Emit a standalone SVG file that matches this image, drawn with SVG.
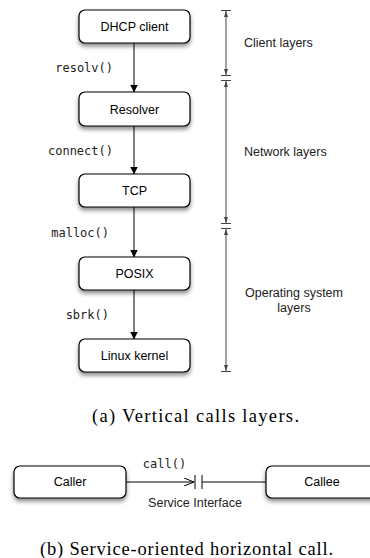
<svg xmlns="http://www.w3.org/2000/svg" width="370" height="558" viewBox="0 0 370 558">
<style>
.box{fill:#fff;stroke:#000;stroke-width:1.2;filter:url(#sh)}
.bt{font-family:"Liberation Sans",Arial,sans-serif;font-size:12.5px;text-anchor:middle;fill:#000}
.mono{font-family:"DejaVu Sans Mono","Liberation Mono",monospace;font-size:12px;fill:#222}
.lbl{font-family:"Liberation Sans",Arial,sans-serif;font-size:12.5px;fill:#222}
.cap{font-family:"Liberation Serif","Times New Roman",serif;font-size:18.5px;text-anchor:middle;fill:#000}
.ln{stroke:#000;stroke-width:1;fill:none}
.br{stroke:#444;stroke-width:1;fill:none}
</style>
<defs>
<filter id="sh" x="-10%" y="-20%" width="120%" height="160%">
<feDropShadow dx="0" dy="3" stdDeviation="2" flood-color="#000" flood-opacity="0.45"/>
</filter>
<marker id="ah" markerWidth="8" markerHeight="10" refX="7.5" refY="4" orient="auto" markerUnits="userSpaceOnUse" viewBox="0 0 8 8">
<path d="M0,0 L8,4 L0,8 z" fill="#000"/>
</marker>
<marker id="sa" markerWidth="6" markerHeight="4" refX="6" refY="2" orient="auto-start-reverse" markerUnits="userSpaceOnUse" viewBox="0 0 6 4">
<path d="M0,0 L6,2 L0,4 z" fill="#444"/>
</marker>
<marker id="oa" markerWidth="10" markerHeight="8" refX="10" refY="4" orient="auto" markerUnits="userSpaceOnUse" viewBox="0 0 10 8">
<path d="M0,0 L10,4 L0,8" fill="none" stroke="#000" stroke-width="1"/>
</marker>
</defs>

<g id="connectors">
<line class="ln" x1="134" y1="43" x2="134" y2="92" marker-end="url(#ah)"/>
<line class="ln" x1="134" y1="126" x2="134" y2="174" marker-end="url(#ah)"/>
<line class="ln" x1="134" y1="207" x2="134" y2="257" marker-end="url(#ah)"/>
<line class="ln" x1="134" y1="290" x2="134" y2="339" marker-end="url(#ah)"/>
<text class="mono" x="113" y="72" text-anchor="end">resolv()</text>
<text class="mono" x="113" y="155" text-anchor="end">connect()</text>
<text class="mono" x="109" y="237" text-anchor="end">malloc()</text>
<text class="mono" x="109" y="319" text-anchor="end">sbrk()</text>
<line class="ln" x1="126" y1="482" x2="194" y2="482" marker-end="url(#oa)"/>
<line class="ln" x1="195" y1="475" x2="195" y2="489"/>
<line class="ln" x1="202" y1="475" x2="202" y2="489"/>
<line class="ln" x1="202" y1="482" x2="266" y2="482"/>
<text class="mono" x="164.5" y="468" text-anchor="middle">call()</text>
<text class="lbl" x="195" y="507" text-anchor="middle">Service Interface</text>
</g>

<g id="dhcp"><rect class="box" x="79" y="10" width="111" height="33" rx="6"/><text class="bt" x="134.5" y="31">DHCP client</text></g>
<g id="resolver"><rect class="box" x="79" y="92" width="111" height="34" rx="6"/><text class="bt" x="134.5" y="113.5">Resolver</text></g>
<g id="tcp"><rect class="box" x="79" y="174" width="111" height="33" rx="6"/><text class="bt" x="134.5" y="195">TCP</text></g>
<g id="posix"><rect class="box" x="79" y="257" width="111" height="33" rx="6"/><text class="bt" x="134.5" y="278">POSIX</text></g>
<g id="linux"><rect class="box" x="79" y="339" width="111" height="33" rx="6"/><text class="bt" x="134.5" y="360">Linux kernel</text></g>

<g id="layers">
<line class="br" x1="221" y1="10.5" x2="231" y2="10.5"/>
<line class="br" x1="226" y1="11" x2="226" y2="75" marker-start="url(#sa)" marker-end="url(#sa)"/>
<line class="br" x1="221" y1="75.5" x2="231" y2="75.5"/>
<line class="br" x1="221" y1="80.5" x2="231" y2="80.5"/>
<line class="br" x1="226" y1="81" x2="226" y2="223" marker-start="url(#sa)" marker-end="url(#sa)"/>
<line class="br" x1="221" y1="223.5" x2="231" y2="223.5"/>
<line class="br" x1="221" y1="228.5" x2="231" y2="228.5"/>
<line class="br" x1="226" y1="229" x2="226" y2="371" marker-start="url(#sa)" marker-end="url(#sa)"/>
<line class="br" x1="221" y1="371.5" x2="231" y2="371.5"/>
<text class="lbl" x="244" y="47">Client layers</text>
<text class="lbl" x="244" y="156">Network layers</text>
<text class="lbl" x="294" y="297" text-anchor="middle">Operating system</text>
<text class="lbl" x="294" y="312" text-anchor="middle">layers</text>
</g>

<text class="cap" x="195.5" y="422" textLength="207" lengthAdjust="spacing">(a)  Vertical calls layers.</text>

<g id="caller"><rect class="box" x="14" y="466" width="112" height="32" rx="6"/><text class="bt" x="70" y="486">Caller</text></g>
<g id="callee"><rect class="box" x="266" y="466" width="112" height="32" rx="6"/><text class="bt" x="322" y="486">Callee</text></g>

<text class="cap" x="186.5" y="555" textLength="293" lengthAdjust="spacing">(b)  Service-oriented horizontal call.</text>
</svg>
